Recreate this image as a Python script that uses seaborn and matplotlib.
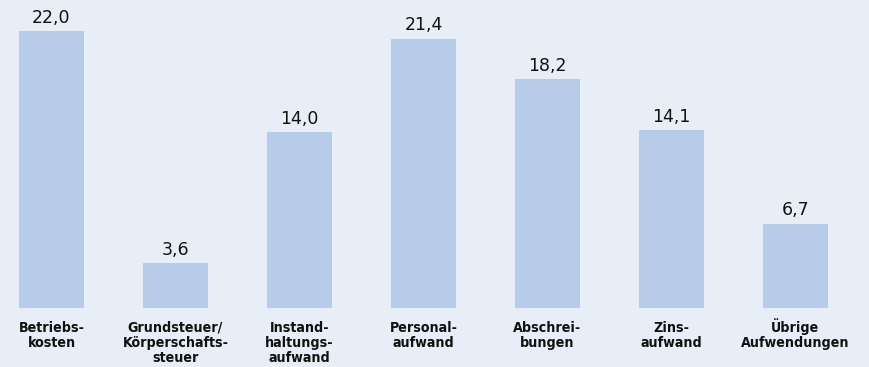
import matplotlib
matplotlib.use("Agg")
import matplotlib.pyplot as plt
import matplotlib.transforms as mtransforms
import seaborn as sns
import pandas as pd

categories = ["Betriebs-\nkosten", "Grundsteuer/\nKörperschafts-\nsteuer", "Instand-\nhaltungs-\naufwand",
              "Personal-\naufwand", "Abschrei-\nbungen", "Zins-\naufwand", "Übrige\nAufwendungen"]
values = [22.0, 3.6, 14.0, 21.4, 18.2, 14.1, 6.7]
value_labels = ["22,0", "3,6", "14,0", "21,4", "18,2", "14,1", "6,7"]

BG = "#e8eef8"
BAR = "#b6cce9"

sns.set_theme(style="white")
plt.rcParams['font.family'] = ['DejaVu Sans']

df = pd.DataFrame({"cat": categories, "val": values})

W, H = 870, 367
fig = plt.figure(figsize=(W / 100, H / 100), dpi=100, facecolor=BG)
bottom_px = 59
ax = fig.add_axes([0, bottom_px / H, 1, (H - bottom_px) / H])
ax.set_facecolor(BG)

sns.barplot(data=df, x="cat", y="val", color=BAR, width=65 / 124, ax=ax,
            saturation=1, edgecolor="none", linewidth=0)

spacing = 124.0
ax.set_xlim(-51.5 / spacing, (W - 51.5) / spacing)
ax.set_ylim(0, (H - bottom_px) / 12.59)

for i, (v, lab) in enumerate(zip(values, value_labels)):
    ax.annotate(lab, (i, v), xytext=(0, 3), textcoords="offset points",
                ha="center", va="bottom", fontsize=12.5, color="#111111")

ax.set_xlabel("")
ax.set_ylabel("")
ax.set_yticks([])
ax.tick_params(axis="x", length=0, pad=9)
for t in ax.get_xticklabels():
    t.set_fontweight("bold")
    t.set_fontsize(10.2)
    t.set_color("#111111")
    t.set_fontstretch("condensed")
    t.set_linespacing(1.1)
    t.set_va("top")
    if t.get_text().startswith("Ü"):
        t.set_transform(t.get_transform() +
                        mtransforms.ScaledTranslation(0, 2 / 100, fig.dpi_scale_trans))
for s in ax.spines.values():
    s.set_visible(False)

fig.savefig("out.png", dpi=100, facecolor=BG)
